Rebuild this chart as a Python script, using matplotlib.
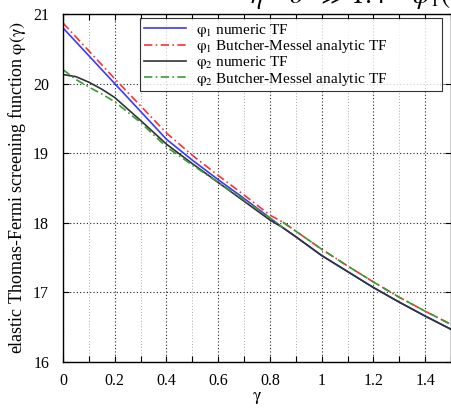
import matplotlib
matplotlib.use("Agg")
import matplotlib.pyplot as plt
from matplotlib.ticker import MultipleLocator

plt.rcParams['font.family'] = ['Liberation Serif', 'DejaVu Serif']
plt.rcParams['mathtext.fontset'] = 'stix'

# gamma grids
g_low = [0.0, 0.05, 0.1, 0.15, 0.2, 0.3, 0.4, 0.5, 0.6, 0.7, 0.8, 0.85]
g_high = [0.85, 0.9, 1.0, 1.1, 1.2, 1.3, 1.4, 1.5]

# phi1 numeric (below 0.85) and common numeric curve above 0.85
phi1_num_low = [20.80, 20.60, 20.40, 20.20, 20.00, 19.60, 19.20, 18.90, 18.62, 18.35, 18.07, 17.93]
phi2_num_low = [20.13, 20.10, 20.02, 19.92, 19.80, 19.47, 19.13, 18.85, 18.58, 18.31, 18.04, 17.93]
num_high = [17.93, 17.80, 17.53, 17.30, 17.07, 16.86, 16.66, 16.47]

phi1_an_low = [20.87, 20.67, 20.47, 20.27, 20.07, 19.68, 19.29, 18.97, 18.68, 18.40, 18.11, 18.01]
phi2_an_low = [20.20, 20.06, 19.95, 19.85, 19.74, 19.44, 19.09, 18.83, 18.58, 18.33, 18.07, 17.93]
an_high = [18.01, 17.88, 17.62, 17.38, 17.15, 16.93, 16.73, 16.54]

labels = [r'$\mathrm{\varphi_1}$ numeric TF',
          r'$\mathrm{\varphi_1}$ Butcher-Messel analytic TF',
          r'$\mathrm{\varphi_2}$ numeric TF',
          r'$\mathrm{\varphi_2}$ Butcher-Messel analytic TF']

fig = plt.figure(figsize=(4.52, 4.09), dpi=100)
ax = fig.add_axes([63/452, 1-362/409, (451-63)/452, (362-14)/409])

blue = '#3a3aff'
red = '#ff3030'
dark = '#333333'
green = '#33a033'

ax.plot(g_low + g_high[1:], phi1_num_low + num_high[1:], color=blue, lw=1.2, label=labels[0])
ax.plot(g_low + g_high, phi1_an_low + an_high, color=red, lw=1.2, ls=(0, (5, 2, 1, 2)), label=labels[1])
ax.plot(g_low + g_high[1:], phi2_num_low + num_high[1:], color=dark, lw=1.2, label=labels[2])
ax.plot(g_low, phi2_an_low, color=green, lw=1.2, ls=(0, (5, 2, 1, 2)), label=labels[3])
ax.plot(g_high, an_high, color=green, lw=1.2, ls=(0, (5, 3)))

ax.set_xlim(0, 1.5)
ax.set_ylim(16, 21)
ax.xaxis.set_major_locator(MultipleLocator(0.2))
ax.xaxis.set_minor_locator(MultipleLocator(0.1))
ax.yaxis.set_major_locator(MultipleLocator(1))
ax.set_xticks([0, 0.2, 0.4, 0.6, 0.8, 1.0, 1.2, 1.4])
ax.set_xticklabels(['0', '0.2', '0.4', '0.6', '0.8', '1', '1.2', '1.4'])
ax.grid(True, which='major', color='#222222', ls=(0, (1, 2)), lw=0.8)
ax.grid(True, which='minor', axis='x', color='#aaaaaa', ls=(0, (1, 2)), lw=0.7)
ax.tick_params(which='both', direction='in', top=True, right=True, labelsize=11.5, length=4, width=0.8)
ax.tick_params(axis='x', pad=8)
ax.tick_params(axis='y', pad=10)
for s in ax.spines.values():
    s.set_linewidth(1.0)

ax.set_xlabel(r'$\mathrm{\gamma}$', fontsize=13, labelpad=0)
ax.set_ylabel(r'elastic Thomas-Fermi screening function $\mathrm{\varphi(\gamma)}$', fontsize=13, labelpad=4)

leg = ax.legend(loc='upper left', bbox_to_anchor=(0.198, 0.779, 0.779, 0.2095), mode='expand',
                fontsize=11, frameon=True, fancybox=False, edgecolor='black',
                handlelength=2.8, borderpad=0.25, labelspacing=-0.05, handletextpad=0.6,
                borderaxespad=0)
leg.get_frame().set_linewidth(0.8)

fig.text(250/452, 1-3/409, r'$\eta\ \ \ \ \sigma\ \ \gg 1.4\ \ \ \ \varphi_1(\gamma)$',
         fontsize=20, va='baseline', ha='left')

fig.savefig('out.png', dpi=100)
